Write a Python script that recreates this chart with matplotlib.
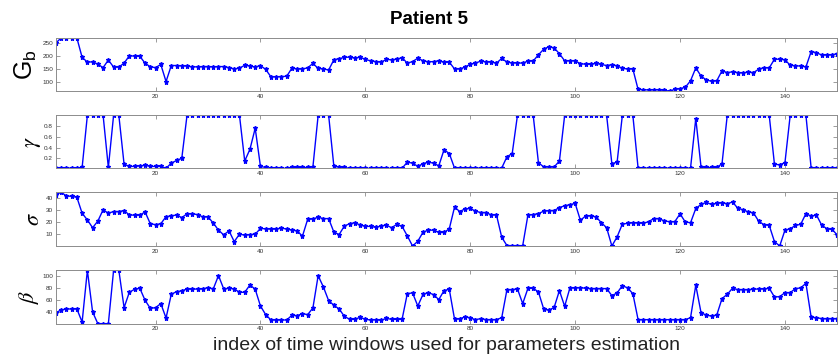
import numpy as np
import matplotlib
matplotlib.use("Agg")
import matplotlib.pyplot as plt

# Estimated parameters per time window
window_index = np.arange(1, 151)

Gb = [250, 269, 270, 270, 269, 195, 177, 178, 169, 156,
      185, 158, 158, 173, 201, 200, 199, 173, 159, 156,
      168, 103, 164, 164, 163, 162, 159, 159, 160, 160,
      159, 160, 160, 156, 151, 154, 165, 162, 158, 164,
      149, 121, 121, 122, 123, 154, 151, 151, 155, 172,
      153, 151, 147, 186, 190, 195, 196, 192, 196, 187,
      182, 179, 177, 187, 186, 188, 194, 173, 179, 192,
      182, 178, 179, 182, 176, 177, 151, 151, 158, 169,
      173, 181, 178, 177, 173, 191, 177, 174, 174, 173,
      181, 181, 205, 226, 236, 231, 209, 182, 182, 182,
      171, 169, 169, 172, 168, 164, 167, 163, 153, 151,
      151, 73, 72, 71, 72, 72, 69, 67, 73, 76,
      81, 106, 155, 124, 109, 104, 106, 144, 137, 140,
      137, 136, 139, 137, 150, 156, 155, 188, 188, 186,
      165, 163, 162, 159, 217, 213, 204, 204, 205, 209]

gamma = [0.02, 0.02, 0.02, 0.02, 0.02, 0.03, 1.0, 1.0, 1.0, 1.0,
         0.03, 1.0, 1.0, 0.09, 0.05, 0.05, 0.06, 0.07, 0.05, 0.05,
         0.05, 0.015, 0.11, 0.16, 0.20, 1.0, 1.0, 1.0, 1.0, 1.0,
         1.0, 1.0, 1.0, 1.0, 1.0, 1.0, 0.15, 0.37, 0.76, 0.05,
         0.03, 0.015, 0.015, 0.015, 0.015, 0.03, 0.03, 0.03, 0.03, 0.04,
         1.0, 1.0, 1.0, 0.05, 0.04, 0.03, 0.015, 0.015, 0.015, 0.015,
         0.015, 0.015, 0.015, 0.015, 0.015, 0.015, 0.015, 0.13, 0.11, 0.05,
         0.10, 0.13, 0.11, 0.06, 0.36, 0.29, 0.02, 0.02, 0.02, 0.02,
         0.02, 0.02, 0.02, 0.02, 0.02, 0.02, 0.23, 0.29, 1.0, 1.0,
         1.0, 1.0, 0.12, 0.04, 0.04, 0.04, 0.15, 1.0, 1.0, 1.0,
         1.0, 1.0, 1.0, 1.0, 1.0, 1.0, 0.10, 0.13, 1.0, 1.0,
         1.0, 0.02, 0.02, 0.02, 0.02, 0.02, 0.02, 0.02, 0.02, 0.02,
         0.02, 0.02, 0.94, 0.04, 0.03, 0.03, 0.03, 0.10, 1.0, 1.0,
         1.0, 1.0, 1.0, 1.0, 1.0, 1.0, 1.0, 0.09, 0.08, 0.12,
         1.0, 1.0, 1.0, 1.0, 0.015, 0.015, 0.015, 0.015, 0.015, 0.015]

sigma = [42.5, 44.4, 41.4, 41.1, 40.3, 27.2, 21.7, 15.3, 20.8, 30.0,
         27.2, 28.6, 28.6, 29.4, 25.8, 25.6, 25.6, 28.3, 18.6, 17.8,
         18.6, 24.4, 25.0, 25.8, 23.6, 26.7, 26.7, 26.1, 24.2, 24.2,
         19.2, 13.3, 9.4, 12.8, 3.9, 10.0, 9.2, 9.7, 10.0, 14.7,
         14.4, 14.2, 14.2, 15.0, 14.2, 13.3, 12.8, 8.3, 22.2, 22.5,
         23.9, 22.8, 22.8, 11.7, 9.7, 16.7, 18.6, 19.4, 17.5, 16.4,
         16.4, 15.6, 16.7, 17.5, 15.3, 18.1, 16.4, 8.6, 0.3, 4.2,
         11.7, 13.3, 13.3, 11.4, 11.4, 14.4, 32.2, 28.6, 30.8, 31.1,
         28.9, 27.8, 27.8, 25.8, 25.8, 7.5, 0.6, 0.6, 0.6, 0.6,
         25.8, 26.1, 26.9, 28.9, 29.4, 29.4, 31.9, 33.3, 34.2, 35.3,
         21.4, 25.0, 25.0, 24.2, 19.4, 15.3, 0.3, 7.8, 18.3, 18.9,
         19.4, 19.2, 18.9, 20.3, 22.8, 22.8, 20.8, 20.3, 20.3, 26.7,
         20.0, 19.4, 31.1, 34.4, 36.1, 34.4, 35.3, 35.8, 35.0, 36.4,
         31.4, 30.0, 28.3, 27.5, 20.6, 17.8, 17.2, 3.9, 0.3, 13.3,
         14.4, 17.2, 18.1, 26.9, 24.7, 25.8, 17.5, 14.4, 13.9, 9.2]

beta = [39.0, 43.4, 45.1, 45.1, 45.1, 23.2, 110.0, 40.0, 20.4, 20.4,
        20.4, 110.0, 110.0, 47.3, 73.1, 78.2, 79.8, 59.7, 46.2, 47.3,
        54.1, 30.0, 69.7, 74.2, 75.4, 78.7, 78.2, 78.7, 78.7, 81.0,
        78.7, 101.1, 78.7, 79.8, 78.7, 73.1, 73.1, 85.4, 78.2, 50.1,
        35.6, 26.6, 26.6, 26.6, 26.6, 34.5, 33.9, 37.3, 35.6, 46.8,
        101.0, 82.0, 59.1, 51.3, 45.1, 32.8, 27.7, 27.7, 31.1, 27.7,
        26.6, 27.2, 26.0, 29.4, 27.7, 27.7, 27.7, 70.9, 72.0, 50.1,
        69.7, 72.5, 69.2, 60.8, 75.9, 78.2, 28.3, 28.3, 32.2, 30.0,
        27.2, 28.9, 27.2, 27.2, 27.2, 30.5, 77.6, 77.6, 78.7, 54.1,
        79.8, 79.8, 73.7, 45.1, 42.9, 47.9, 75.9, 49.6, 80.4, 80.4,
        81.0, 79.8, 79.3, 79.3, 79.3, 79.3, 67.5, 72.0, 84.3, 80.4,
        70.9, 27.2, 27.2, 27.2, 27.2, 27.2, 27.2, 27.2, 27.2, 27.2,
        27.2, 30.5, 84.9, 39.0, 34.5, 33.3, 35.0, 62.5, 69.7, 79.8,
        77.6, 77.6, 77.6, 78.2, 78.7, 78.7, 79.8, 65.3, 65.8, 72.5,
        72.5, 79.3, 80.4, 88.2, 31.1, 30.5, 28.9, 28.9, 28.9, 28.9]

panels = [
    (Gb, r"$\mathregular{G_b}$", [100, 150, 200, 250]),
    (gamma, r"$\gamma$", [0.2, 0.4, 0.6, 0.8]),
    (sigma, r"$\sigma$", [10, 20, 30, 40]),
    (beta, r"$\beta$", [40, 60, 80, 100]),
]
xticks = [20, 40, 60, 80, 100, 120, 140]

plt.rcParams["font.family"] = ["Liberation Sans", "DejaVu Sans"]
plt.rcParams["mathtext.fontset"] = "stix"

W, H = 838, 358
fig = plt.figure(figsize=(W / 100, H / 100), dpi=100)

# axes boxes in pixel coordinates: (top, bottom)
boxes = [(37.7, 91.0), (115.3, 168.3), (192.3, 246.0), (270.3, 323.7)]
left_px, right_px = 55.9, 837.4

spine_col = "#8c8c8c"
text_col = "#333333"

for (vals, label, yt), (top, bot) in zip(panels, boxes):
    ax = fig.add_axes([left_px / W, 1 - bot / H,
                       (right_px - left_px) / W, (bot - top) / H])
    v = np.asarray(vals, dtype=float)
    ax.plot(window_index, v, "-", color="#0000ff", lw=1.0,
            marker="*", markersize=3.6, markeredgewidth=0.9)
    ax.set_xlim(1, 150)
    ax.set_ylim(v.min(), v.max())
    ax.set_xticks(xticks)
    ax.set_yticks(yt)
    ax.set_yticklabels([f"{t:g}" for t in yt])
    ax.tick_params(direction="in", length=3, width=0.6, colors=spine_col,
                   labelcolor=text_col, labelsize=4.6, top=True, right=True,
                   pad=2)
    for s in ax.spines.values():
        s.set_color(spine_col)
        s.set_linewidth(0.7)
    if label.startswith(r"$\mathregular"):
        ax.set_ylabel(label, fontsize=18, color="black", labelpad=2)
    else:
        ax.set_ylabel(label, fontsize=16, color="black", labelpad=1)
    if vals is beta:
        ax.set_xlabel("index of time windows used for parameters estimation",
                      fontsize=14, color="#222222", labelpad=4)

fig.text(428.8 / W, 1 - 20 / H, "Patient 5", ha="center", va="center",
         fontsize=13.5, fontweight="bold")

fig.savefig("out.png", dpi=100)
